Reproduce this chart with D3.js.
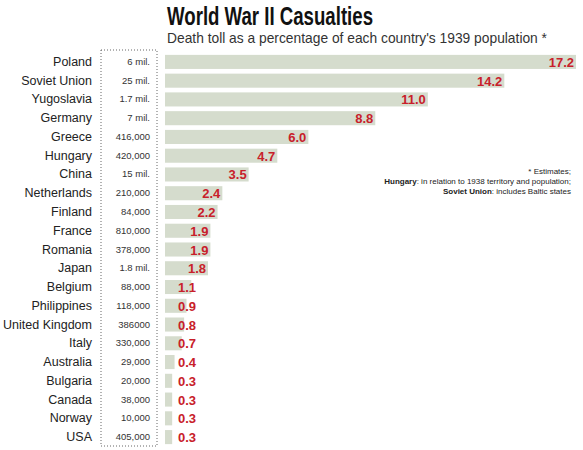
<!DOCTYPE html><html><head><meta charset="utf-8"><script src="https://d3js.org/d3.v7.min.js"></script>
<style>body{margin:0;background:#fff}</style></head><body><svg id="c" width="583" height="450"></svg>
<script>
const countries=["Poland","Soviet Union","Yugoslavia","Germany","Greece","Hungary","China","Netherlands","Finland","France","Romania","Japan","Belgium","Philippines","United Kingdom","Italy","Australia","Bulgaria","Canada","Norway","USA"];
const tolls=["6 mil.","25 mil.","1.7 mil.","7 mil.","416,000","420,000","15 mil.","210,000","84,000","810,000","378,000","1.8 mil.","88,000","118,000","386000","330,000","29,000","20,000","38,000","10,000","405,000"];
const pct=[17.2,14.2,11.0,8.8,6.0,4.7,3.5,2.4,2.2,1.9,1.9,1.8,1.1,0.9,0.8,0.7,0.4,0.3,0.3,0.3,0.3];
const F="Liberation Sans, Arial, sans-serif";
const svg=d3.select("#c");
const x=d3.scaleLinear().domain([0,17.2]).range([165,576]);
const y=d3.scaleBand().domain(countries).range([53,446]).paddingInner(0.25).paddingOuter(0.1);
svg.append("text").attr("x",167).attr("y",25).attr("font-family",F).attr("font-weight","bold").attr("font-size",25).attr("textLength",206).attr("lengthAdjust","spacingAndGlyphs").attr("fill","#111").text("World War II Casualties");
svg.append("text").attr("x",167).attr("y",43).attr("font-family",F).attr("font-size",15).attr("textLength",380).attr("lengthAdjust","spacingAndGlyphs").attr("fill","#333").text("Death toll as a percentage of each country's 1939 population *");
svg.append("rect").attr("x",101).attr("y",50).attr("width",56).attr("height",396).attr("fill","none").attr("stroke","#666").attr("stroke-dasharray","1,2");
const g=svg.selectAll("g.r").data(countries).join("g");
g.append("rect").attr("x",x(0)).attr("y",d=>y(d)).attr("height",y.bandwidth()).attr("width",(d,i)=>x(pct[i])-x(0)).attr("fill","#d5dccd");
g.append("text").attr("x",92).attr("y",d=>y(d)+y.bandwidth()/2+4).attr("text-anchor","end").attr("font-family",F).attr("font-size",12.5).attr("fill","#222").text(d=>d);
g.append("text").attr("x",150).attr("y",d=>y(d)+y.bandwidth()/2+3).attr("text-anchor","end").attr("font-family",F).attr("font-size",9.5).attr("fill","#333").text((d,i)=>tolls[i]);
g.append("text").attr("x",(d,i)=>Math.max(x(pct[i]),198)-2).attr("y",d=>y(d)+y.bandwidth()/2+5).attr("text-anchor","end").attr("font-family",F).attr("font-weight","bold").attr("font-size",13).attr("fill","#c8202a").text((d,i)=>pct[i].toFixed(1));
const notes=svg.append("text").attr("font-family",F).attr("font-size",8).attr("fill","#222").attr("text-anchor","end");
notes.append("tspan").attr("x",571).attr("y",174).text("* Estimates;");
const n2=notes.append("tspan").attr("x",571).attr("y",184);n2.append("tspan").attr("font-weight","bold").text("Hungary");n2.append("tspan").text(": in relation to 1938 territory and population;");
const n3=notes.append("tspan").attr("x",571).attr("y",194);n3.append("tspan").attr("font-weight","bold").text("Soviet Union");n3.append("tspan").text(": includes Baltic states");
</script></body></html>
